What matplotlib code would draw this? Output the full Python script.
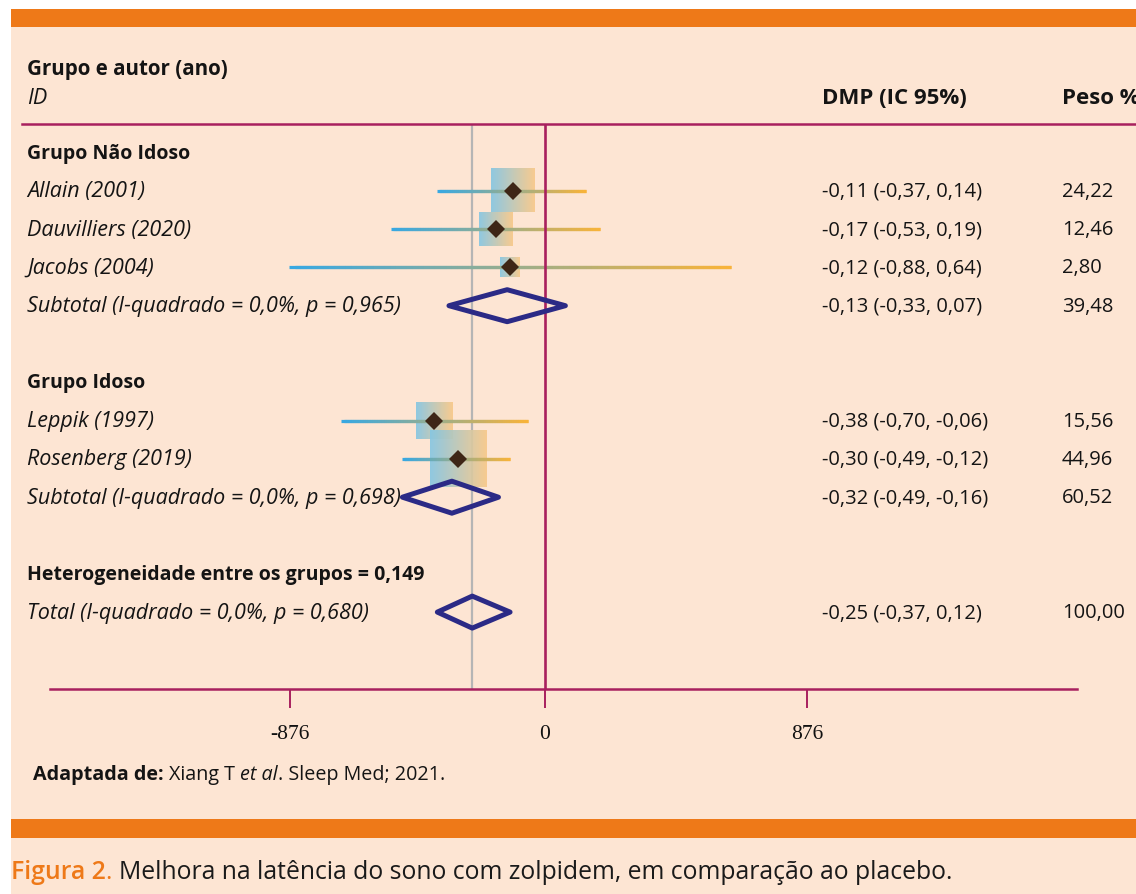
import numpy as np
import matplotlib
matplotlib.use("Agg")
import matplotlib.pyplot as plt
from matplotlib.patches import Rectangle, Polygon
from matplotlib.lines import Line2D
from matplotlib.collections import LineCollection
from matplotlib.colors import LinearSegmentedColormap
import matplotlib.transforms as mtransforms

# ---- data ----
studies = ["Allain (2001)", "Dauvilliers (2020)", "Jacobs (2004)",
           "Leppik (1997)", "Rosenberg (2019)"]
study_rows = [1, 2, 3, 7, 8]
study_est = [-0.11, -0.17, -0.12, -0.38, -0.30]
study_lo = [-0.37, -0.53, -0.88, -0.70, -0.49]
study_hi = [0.14, 0.19, 0.64, -0.06, -0.12]
study_weight = [24.22, 12.46, 2.80, 15.56, 44.96]
study_ci_text = ["-0,11 (-0,37, 0,14)", "-0,17 (-0,53, 0,19)", "-0,12 (-0,88, 0,64)",
                 "-0,38 (-0,70, -0,06)", "-0,30 (-0,49, -0,12)"]

pooled = ["Subtotal (I-quadrado = 0,0%, p = 0,965)",
          "Subtotal (I-quadrado = 0,0%, p = 0,698)",
          "Total (I-quadrado = 0,0%, p = 0,680)"]
pooled_rows = [4, 9, 12]
pooled_est = [-0.13, -0.32, -0.25]
pooled_lo = [-0.33, -0.49, -0.37]
pooled_hi = [0.07, -0.16, -0.12]
pooled_weight = [39.48, 60.52, 100.00]
pooled_ci_text = ["-0,13 (-0,33, 0,07)", "-0,32 (-0,49, -0,16)", "-0,25 (-0,37, 0,12)"]

headers = ["Grupo Não Idoso", "Grupo Idoso", "Heterogeneidade entre os grupos = 0,149"]
header_rows = [0, 6, 11]

overall_line = -0.25
xticks = [-0.878, 0, 0.902]
xtick_labels = ["-876", "0", "876"]

# ---- colours ----
peach = "#fde5d3"
orange = "#ee7918"
magenta = "#a8205e"
navy = "#2b2a86"
brown = "#3e2616"
gray = "#b5b5b5"
line_cmap = LinearSegmentedColormap.from_list("ci", ["#38a8e2", "#f8b33a"])
box_cmap = LinearSegmentedColormap.from_list("box", ["#86c6e2", "#f7c98a"])

W, H = 1136, 895
plt.rcParams["font.family"] = ["Open Sans", "DejaVu Sans"]
fig = plt.figure(figsize=(W / 100, H / 100), dpi=100, facecolor="white")


def fx(x):
    return x / W


def fy(y):
    return 1 - y / H


# background panel and orange bars
fig.add_artist(Rectangle((fx(10.7), fy(895)), 1, (895 - 10) / H, transform=fig.transFigure,
                         facecolor=peach, edgecolor="none", zorder=0))
for top, bot in [(10, 28), (820, 839)]:
    fig.add_artist(Rectangle((fx(10.7), fy(bot)), 1, (bot - top) / H, transform=fig.transFigure,
                             facecolor=orange, edgecolor="none", zorder=1))

# forest axes: 0 at x=545px, 291 px per unit; row k at 153.5 + 38.3k px
ax_left, ax_right, ax_top, ax_bot = 50, 1077, 125, 690
ppu = 291.0
row_px = 38.3
ax = fig.add_axes([fx(ax_left), fy(ax_bot), (ax_right - ax_left) / W, (ax_bot - ax_top) / H])
ax.set_facecolor("none")

for s in ["top", "left", "right"]:
    ax.spines[s].set_visible(False)
ax.spines["bottom"].set_color(magenta)
ax.spines["bottom"].set_linewidth(1.8)
ax.set_yticks([])
ax.set_xticks(xticks)
ax.set_xticklabels(xtick_labels, family="Liberation Serif", fontsize=15.5, color="#111111")
ax.tick_params(axis="x", direction="out", length=14, width=1.4, color=magenta, pad=11)

ax.axvline(overall_line, color=gray, lw=1.6, zorder=1)
ax.axvline(0, color=magenta, lw=1.9, zorder=5)

# study boxes, CI lines and points
for r, e, lo, hi, w in zip(study_rows, study_est, study_lo, study_hi, study_weight):
    side = 8 + 7.16 * np.sqrt(w)
    hw = side / 2 / ppu
    hh = side / 2 / row_px
    grad = np.linspace(0, 1, 64).reshape(1, -1)
    ax.imshow(grad, cmap=box_cmap, extent=[e - hw, e + hw, r + hh, r - hh],
              aspect="auto", zorder=2, alpha=0.92, interpolation="bilinear")
    xs = np.linspace(lo, hi, 80)
    n = len(xs)
    segs = [[(xs[i], r), (xs[min(i + 2, n - 1)], r)] for i in range(n - 1)]
    lc = LineCollection(segs, colors=line_cmap(np.linspace(0, 1, len(segs))),
                        linewidths=2.3, zorder=3, capstyle="butt")
    ax.add_collection(lc)
    ax.plot(e, r, marker="D", ms=9.5, color=brown, mew=0, zorder=6)

# pooled diamonds
dh = 16 / row_px
for r, e, lo, hi in zip(pooled_rows, pooled_est, pooled_lo, pooled_hi):
    ax.add_patch(Polygon([(lo, r), (e, r - dh), (hi, r), (e, r + dh)], closed=True,
                         facecolor="none", edgecolor=navy, lw=3.6, joinstyle="round", zorder=7))

ax.set_xlim((ax_left - 545) / ppu, (ax_right - 545) / ppu)
ax.set_ylim((ax_bot - 153.5) / row_px, (ax_top - 153.5) / row_px)

# text columns
tr = mtransforms.blended_transform_factory(fig.transFigure, ax.transData)
fs = 14.5
fs_it = 15.5
fs_b = 14
txt = "#141414"
for r, s in zip(header_rows, headers):
    ax.text(fx(27), r, s, transform=tr, fontsize=fs_b, fontweight="bold", va="center", color=txt)
for r, s, c, w in zip(study_rows, studies, study_ci_text, study_weight):
    ax.text(fx(27), r, s, transform=tr, fontsize=fs_it, style="italic", va="center", color=txt)
    ax.text(fx(822), r, c, transform=tr, fontsize=fs, va="center", color=txt)
    ax.text(fx(1062), r, f"{w:.2f}".replace(".", ","), transform=tr, fontsize=fs, va="center", color=txt)
for r, s, c, w in zip(pooled_rows, pooled, pooled_ci_text, pooled_weight):
    ax.text(fx(27), r, s, transform=tr, fontsize=fs_it, style="italic", va="center", color=txt)
    ax.text(fx(822), r, c, transform=tr, fontsize=fs, va="center", color=txt)
    ax.text(fx(1062), r, f"{w:.2f}".replace(".", ","), transform=tr, fontsize=fs, va="center", color=txt)

# column headers
fig.text(fx(27), fy(70), "Grupo e autor (ano)", fontsize=14.8, fontweight="bold", va="center", color=txt)
fig.text(fx(27), fy(99), "ID", fontsize=fs_it, style="italic", va="center", color=txt)
fig.text(fx(822), fy(99), "DMP (IC 95%)", fontsize=16, fontweight="bold", va="center", color=txt)
fig.text(fx(1062), fy(99), "Peso %", fontsize=16, fontweight="bold", va="center", color=txt)
fig.add_artist(Line2D([fx(22), 1], [fy(125), fy(125)], transform=fig.transFigure,
                      color=magenta, lw=1.8))

# mixed-style runs
renderer = fig.canvas.get_renderer()


def runs(x, y, parts, size):
    for s, kw in parts:
        t = fig.text(fx(x), fy(y), s, fontsize=size, va="center", **kw)
        x += t.get_window_extent(renderer).width


runs(33, 775, [("Adaptada de: ", dict(fontweight="bold", color=txt)),
               ("Xiang T ", dict(color=txt)),
               ("et al", dict(style="italic", color=txt)),
               (". Sleep Med; 2021.", dict(color=txt))], 14.2)
runs(11, 873, [("Figura 2", dict(fontweight="semibold", color=orange)),
               (". ", dict(color=orange)),
               ("Melhora na latência do sono com zolpidem, em comparação ao placebo.",
                dict(color="#1a1a1a"))], 17.8)

fig.savefig("out.png", dpi=100, facecolor="white")
